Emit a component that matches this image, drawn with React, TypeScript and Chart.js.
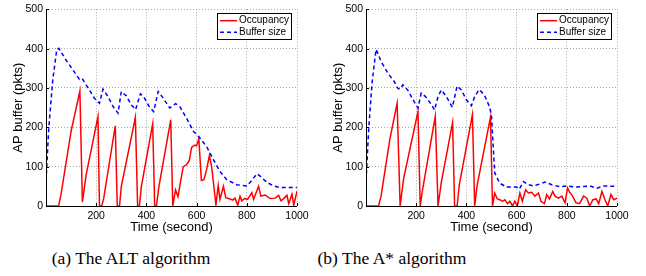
import React, { useEffect, useRef } from 'react';
import { Chart, registerables } from 'chart.js';
Chart.register(...registerables);

const xTickValues = [0, 200, 400, 600, 800, 1000];
const yTickValues = [0, 100, 200, 300, 400, 500];
const legendLabels = ['Occupancy', 'Buffer size'];
const captions = ['(a) The ALT algorithm', '(b) The A* algorithm'];
const xTitle = 'Time (second)';
const yTitle = 'AP buffer (pkts)';

// (a) ALT
const altOccTime = [0, 50, 60, 100, 135, 145, 160, 207, 213, 222, 230, 276, 284, 293, 300, 356, 365, 372, 380, 425, 433, 440, 450, 497, 505, 516, 526, 536, 547, 560, 571, 580, 593, 600, 609, 619, 629, 640, 651, 660, 669, 677, 686, 693, 707, 716, 733, 744, 753, 764, 773, 780, 791, 803, 820, 827, 847, 856, 873, 893, 913, 927, 936, 949, 960, 967, 980, 987, 1000];
const altOccValue = [0, 0, 30, 190, 292, 10, 80, 227, 0, 0, 20, 204, 0, 0, 50, 225, 0, 0, 50, 209, 0, 0, 50, 219, 0, 41, 24, 62, 100, 105, 116, 149, 155, 153, 171, 65, 67, 93, 128, 100, 49, 3, 52, 17, 50, 21, 18, 15, 20, 2, 25, 13, 19, 17, 34, 17, 50, 25, 28, 19, 20, 27, 13, 20, 27, 6, 30, 2, 38];
const altBufTime = [0, 11, 27, 43, 51, 80, 107, 133, 144, 160, 193, 213, 227, 247, 267, 287, 300, 320, 340, 357, 376, 389, 411, 429, 447, 467, 493, 516, 533, 560, 587, 613, 640, 667, 693, 720, 760, 800, 820, 840, 853, 880, 907, 933, 960, 1000];
const altBufValue = [63, 198, 321, 398, 401, 371, 346, 322, 324, 308, 274, 261, 297, 278, 253, 236, 291, 280, 257, 245, 285, 278, 253, 240, 291, 274, 249, 260, 253, 223, 190, 173, 151, 118, 88, 67, 54, 51, 65, 82, 76, 60, 51, 47, 47, 47];

// (b) A*
const astarOccTime = [0, 50, 60, 95, 124, 136, 150, 207, 216, 225, 276, 287, 300, 345, 353, 363, 372, 424, 433, 442, 496, 504, 513, 523, 533, 544, 553, 564, 573, 584, 593, 603, 613, 623, 636, 647, 660, 673, 687, 697, 711, 720, 731, 744, 753, 767, 780, 793, 803, 811, 823, 837, 851, 867, 880, 891, 904, 917, 927, 940, 951, 963, 976, 987, 1000];
const astarOccValue = [0, 0, 25, 170, 261, 0, 70, 240, 0, 40, 228, 0, 60, 212, 0, 0, 55, 232, 0, 50, 226, 0, 33, 18, 16, 12, 16, 6, 12, 0, 12, 0, 33, 12, 41, 33, 35, 25, 33, 12, 6, 29, 18, 37, 25, 20, 25, 8, 46, 35, 25, 8, 6, 25, 20, 0, 16, 18, 6, 37, 18, 0, 29, 16, 20];
const astarBufTime = [0, 11, 24, 40, 47, 60, 87, 113, 127, 136, 147, 167, 191, 207, 220, 237, 257, 273, 287, 300, 320, 344, 363, 380, 400, 420, 433, 451, 471, 493, 500, 506, 513, 533, 560, 600, 611, 627, 647, 667, 693, 713, 740, 773, 800, 840, 893, 920, 947, 993, 1000];
const astarBufValue = [63, 198, 312, 398, 388, 367, 338, 316, 299, 297, 308, 294, 266, 249, 287, 278, 261, 244, 278, 295, 278, 251, 305, 295, 270, 255, 278, 296, 283, 251, 228, 160, 84, 58, 48, 48, 43, 62, 54, 51, 56, 61, 54, 49, 51, 48, 51, 45, 51, 50, 50];

const panels = [
  { occT: altOccTime, occV: altOccValue, bufT: altBufTime, bufV: altBufValue },
  { occT: astarOccTime, occV: astarOccValue, bufT: astarBufTime, bufV: astarBufValue },
];

const FONT = '"Liberation Sans", Arial, Helvetica, sans-serif';

const toXY = (t: number[], v: number[]) => t.map((x, i) => ({ x, y: v[i] }));

const boxLegend = {
  id: 'boxLegend',
  afterDraw(chart: any) {
    const { ctx, chartArea } = chart;
    const w = 74, h = 26;
    const x = Math.round(chartArea.right - 80);
    const y = Math.round(chartArea.top + 4);
    ctx.save();
    ctx.fillStyle = '#fff';
    ctx.fillRect(x, y, w, h);
    ctx.strokeStyle = '#000';
    ctx.lineWidth = 1;
    ctx.setLineDash([]);
    ctx.strokeRect(x + 0.5, y + 0.5, w, h);
    chart.data.datasets.forEach((ds: any, i: number) => {
      const cy = y + 7.7 + i * 11.6;
      ctx.beginPath();
      ctx.strokeStyle = ds.borderColor;
      ctx.lineWidth = ds.borderWidth;
      ctx.setLineDash(ds.borderDash || []);
      ctx.moveTo(x + 3, cy);
      ctx.lineTo(x + 20, cy);
      ctx.stroke();
      ctx.setLineDash([]);
      ctx.fillStyle = '#000';
      ctx.font = '10px ' + FONT;
      ctx.textBaseline = 'middle';
      ctx.textAlign = 'left';
      ctx.fillText(ds.label, x + 22, cy);
    });
    ctx.restore();
  },
};

const innerTicks = {
  id: 'innerTicks',
  afterDraw(chart: any) {
    const { ctx, chartArea, scales } = chart;
    ctx.save();
    ctx.strokeStyle = '#000';
    ctx.lineWidth = 1;
    ctx.setLineDash([]);
    ctx.beginPath();
    ctx.moveTo(chartArea.left + 0.5, chartArea.top);
    ctx.lineTo(chartArea.left + 0.5, chartArea.bottom + 0.5);
    ctx.lineTo(chartArea.right, chartArea.bottom + 0.5);
    xTickValues.forEach((v) => {
      const px = Math.round(scales.x.getPixelForValue(v)) + 0.5;
      ctx.moveTo(px, chartArea.bottom);
      ctx.lineTo(px, chartArea.bottom - 3);
    });
    yTickValues.forEach((v) => {
      const py = Math.round(scales.y.getPixelForValue(v)) + 0.5;
      ctx.moveTo(chartArea.left, py);
      ctx.lineTo(chartArea.left + 3, py);
    });
    ctx.stroke();
    ctx.restore();
  },
};

function Panel({ index }: { index: number }) {
  const ref = useRef<HTMLCanvasElement>(null);
  useEffect(() => {
    const p = panels[index];
    const grid = { color: '#a8a8a8', lineWidth: 1, drawTicks: false } as any;
    const border = { display: false, dash: [1, 2] } as any;
    const chart = new Chart(ref.current as HTMLCanvasElement, {
      type: 'line',
      data: {
        datasets: [
          {
            label: legendLabels[0],
            data: toXY(p.occT, p.occV),
            borderColor: '#ff0000',
            borderWidth: 1.5,
            pointRadius: 0,
            tension: 0,
            order: 1,
          },
          {
            label: legendLabels[1],
            data: toXY(p.bufT, p.bufV),
            borderColor: '#0000ff',
            borderWidth: 1.5,
            borderDash: [4, 3],
            pointRadius: 0,
            tension: 0,
            order: 0,
          },
        ] as any,
      },
      options: {
        animation: false,
        responsive: false,
        events: [],
        layout: { padding: { left: 0, right: 23, top: 9, bottom: 0 } },
        plugins: { legend: { display: false }, tooltip: { enabled: false } },
        scales: {
          x: {
            type: 'linear',
            min: 0,
            max: 1000,
            afterBuildTicks: (s: any) => { s.ticks = xTickValues.map((value) => ({ value })); },
            afterFit: (s: any) => { s.height = 30; },
            grid: { ...grid },
            border: { ...border },
            ticks: {
              color: '#000',
              font: { size: 10.5, family: FONT },
              padding: 4,
              maxRotation: 0,
              callback: (v: any) => (v === 0 ? '' : String(v)),
            },
            title: {
              display: true,
              text: xTitle,
              color: '#000',
              font: { size: 13, family: FONT },
              padding: { top: 0, bottom: 1 },
            },
          },
          y: {
            type: 'linear',
            min: 0,
            max: 500,
            afterBuildTicks: (s: any) => { s.ticks = yTickValues.map((value) => ({ value })); },
            afterFit: (s: any) => { s.width = 46; },
            grid: { ...grid },
            border: { ...border },
            ticks: {
              color: '#000',
              font: { size: 10.5, family: FONT },
              padding: 3,
            },
            title: {
              display: true,
              text: yTitle,
              color: '#000',
              font: { size: 13, family: FONT },
              padding: { top: 11, bottom: 0 },
            },
          },
        },
      } as any,
      plugins: [innerTicks, boxLegend],
    });
    return () => chart.destroy();
  }, [index]);
  return (
    <canvas
      ref={ref}
      width={320}
      height={236}
      style={{ position: 'absolute', left: index * 320, top: 0, width: 320, height: 236 }}
    />
  );
}

export default function App() {
  return (
    <div style={{ position: 'fixed', left: 0, top: 0, width: 646, height: 276, background: '#fff', overflow: 'hidden' }}>
      <Panel index={0} />
      <Panel index={1} />
      {captions.map((c, i) => (
        <div
          key={c}
          style={{
            position: 'absolute',
            left: i === 0 ? 131 - 120 : 392 - 120,
            width: 240,
            top: 247,
            textAlign: 'center',
            fontFamily: '"Liberation Serif", "Times New Roman", serif',
            fontSize: 17.5,
            lineHeight: '22px',
            color: '#000',
            whiteSpace: 'nowrap',
          }}
        >
          {c}
        </div>
      ))}
    </div>
  );
}
